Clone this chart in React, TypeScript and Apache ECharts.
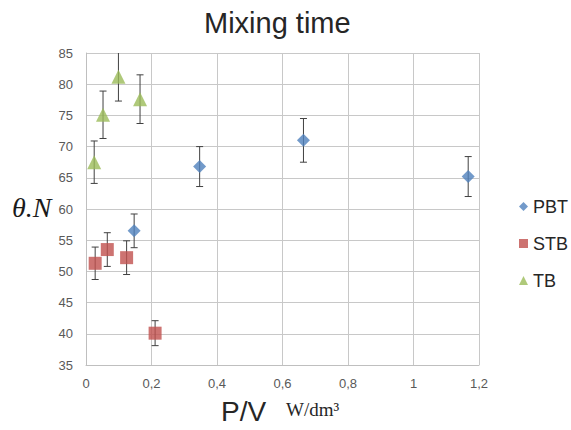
import React, { useEffect, useRef } from "react";
import * as echarts from "echarts";

const seriesNames = ["PBT", "STB", "TB"];
const pbtX = [0.147, 0.347, 0.664, 1.167];
const pbtY = [56.5, 66.8, 71.0, 65.2];
const pbtErr = [2.7, 3.2, 3.5, 3.2];
const stbX = [0.028, 0.065, 0.124, 0.211];
const stbY = [51.3, 53.5, 52.2, 40.1];
const stbErr = [2.6, 2.7, 2.7, 2.0];
const tbX = [0.025, 0.052, 0.099, 0.165];
const tbY = [67.5, 75.1, 81.2, 77.6];
const tbErr = [3.4, 3.8, 3.9, 3.9];
const xTicks = [0, 0.2, 0.4, 0.6, 0.8, 1, 1.2];
const yTicks = [35, 40, 45, 50, 55, 60, 65, 70, 75, 80, 85];

const colors = ["#4F81BD", "#C0504D", "#9BBB59"];

function pts(xs: number[], ys: number[]) {
  return xs.map((x, i) => [x, ys[i]]);
}
function errs(xs: number[], ys: number[], es: number[]) {
  return xs.map((x, i) => [x, ys[i] - es[i], ys[i] + es[i]]);
}

const renderErr = (params: any, api: any) => {
  const x = api.value(0);
  const lo = api.coord([x, api.value(1)]);
  const hi = api.coord([x, api.value(2)]);
  const cap = 3.5;
  const style = { stroke: "#404040", lineWidth: 1 };
  return {
    type: "group",
    children: [
      { type: "line", shape: { x1: lo[0], y1: lo[1], x2: hi[0], y2: hi[1] }, style },
      { type: "line", shape: { x1: lo[0] - cap, y1: lo[1], x2: lo[0] + cap, y2: lo[1] }, style },
      { type: "line", shape: { x1: hi[0] - cap, y1: hi[1], x2: hi[0] + cap, y2: hi[1] }, style },
    ],
  };
};

export default function App() {
  const ref = useRef<HTMLDivElement>(null);
  useEffect(() => {
    if (!ref.current) return;
    const chart = echarts.init(ref.current, null, { renderer: "svg" });
    const fmt = (v: number) => String(v).replace(".", ",");
    chart.setOption({
      animation: false,
      backgroundColor: "#ffffff",
      title: {
        text: "Mixing time",
        left: 199,
        top: 3,
        textStyle: { fontFamily: "Liberation Sans", fontSize: 29, fontWeight: "normal", color: "#262626" },
      },
      grid: { left: 86, top: 53, right: 92, bottom: 65 },
      legend: {
        orient: "vertical",
        left: 514,
        top: 192,
        itemWidth: 9,
        itemHeight: 9,
        itemGap: 18,
        data: [
          { name: "PBT", icon: "diamond" },
          { name: "STB", icon: "rect" },
          { name: "TB", icon: "triangle" },
        ],
        textStyle: { fontFamily: "Liberation Sans", fontSize: 18, color: "#262626", lineHeight: 19 },
      },
      xAxis: {
        type: "value",
        min: 0,
        max: 1.2,
        interval: 0.2,
        axisLine: { show: true, lineStyle: { color: "#bfbfbf" } },
        axisTick: { show: false },
        axisLabel: {
          margin: 12,
          fontFamily: "Liberation Sans",
          fontSize: 13,
          color: "#595959",
          formatter: fmt,
        },
        splitLine: { show: true, lineStyle: { color: "#c8c8c8" } },
      },
      yAxis: {
        type: "value",
        min: 35,
        max: 85,
        interval: 5,
        axisLine: { show: true, lineStyle: { color: "#bfbfbf" } },
        axisTick: { show: false },
        axisLabel: { margin: 13, fontFamily: "Liberation Sans", fontSize: 13, color: "#595959" },
        splitLine: { show: true, lineStyle: { color: "#c8c8c8" } },
      },
      graphic: [
        {
          type: "text",
          left: 12,
          top: 193,
          style: { text: "θ.N", font: "italic 28px 'Liberation Serif'", fill: "#1a1a1a" },
        },
        {
          type: "text",
          left: 221,
          top: 397,
          style: { text: "P/V", font: "28px 'Liberation Sans'", fill: "#262626" },
        },
        {
          type: "text",
          left: 286,
          top: 400,
          style: { text: "W/dm³", font: "19px 'Liberation Serif'", fill: "#262626" },
        },
      ],
      series: [
        {
          name: "PBT-err",
          type: "custom",
          renderItem: renderErr,
          data: errs(pbtX, pbtY, pbtErr),
          clip: true,
          z: 1,
          silent: true,
        },
        {
          name: "STB-err",
          type: "custom",
          renderItem: renderErr,
          data: errs(stbX, stbY, stbErr),
          clip: true,
          z: 1,
          silent: true,
        },
        {
          name: "TB-err",
          type: "custom",
          renderItem: renderErr,
          data: errs(tbX, tbY, tbErr),
          clip: true,
          z: 1,
          silent: true,
        },
        {
          name: seriesNames[0],
          type: "scatter",
          symbol: "diamond",
          symbolSize: 13,
          itemStyle: { color: colors[0] },
          data: pts(pbtX, pbtY),
          z: 3,
        },
        {
          name: seriesNames[1],
          type: "scatter",
          symbol: "rect",
          symbolSize: 13,
          itemStyle: { color: colors[1] },
          data: pts(stbX, stbY),
          z: 3,
        },
        {
          name: seriesNames[2],
          type: "scatter",
          symbol: "triangle",
          symbolSize: 14,
          itemStyle: { color: colors[2] },
          data: pts(tbX, tbY),
          z: 3,
        },
      ],
    });
    return () => chart.dispose();
  }, []);
  return <div ref={ref} style={{ width: 571, height: 430, position: "absolute", left: 0, top: 0 }} />;
}
